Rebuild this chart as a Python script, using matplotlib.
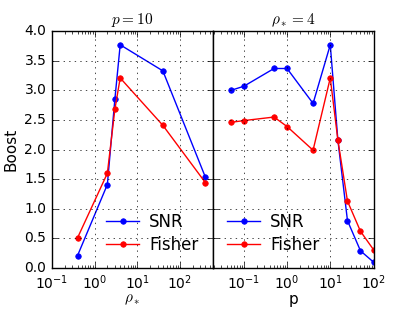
import numpy as np
import matplotlib
matplotlib.use('Agg')
from matplotlib import pyplot as plt

# left panel: p = 10, varying rho_*
rho = [0.4, 2, 3, 4, 40, 400]
snr_rho = [0.21, 1.41, 2.85, 3.77, 3.33, 1.53]
fisher_rho = [0.51, 1.60, 2.68, 3.21, 2.41, 1.44]

# right panel: rho_* = 4, varying p
p = [0.05, 0.1, 0.5, 1, 4, 10, 15, 25, 50, 100]
snr_p = [3.00, 3.07, 3.37, 3.37, 2.78, 3.77, 2.16, 0.80, 0.29, 0.10]
fisher_p = [2.46, 2.49, 2.55, 2.39, 1.99, 3.21, 2.16, 1.13, 0.62, 0.31]

yticks = np.arange(0, 4.01, 0.5)

plt.style.use('classic')
fig, (ax1, ax2) = plt.subplots(1, 2, sharey=True, figsize=(4.15, 3.12), dpi=100)
fig.patch.set_facecolor('white')
fig.subplots_adjust(left=0.125, right=0.9, top=0.9, bottom=0.141, wspace=0)

leg_kw = dict(numpoints=1, frameon=False, fontsize=12, borderaxespad=0.45,
              handlelength=2.0, handletextpad=0.6, labelspacing=0.3)

ax1.plot(rho, snr_rho, 'b.-', ms=8, label='SNR')
ax1.plot(rho, fisher_rho, 'r.-', ms=8, label='Fisher')
ax1.set_xscale('log')
ax1.set_xlim(0.1, 590)
ax1.set_ylim(0, 4)
ax1.set_yticks(yticks)
ax1.set_title('$p = 10$', fontsize=11)
ax1.set_xlabel(r'$\rho_*$', fontsize=11, labelpad=0)
ax1.set_ylabel('Boost', fontsize=11, labelpad=4)
ax1.grid(True)
ax1.legend(loc='lower right', **leg_kw)

ax2.plot(p, snr_p, 'b.-', ms=8, label='SNR')
ax2.plot(p, fisher_p, 'r.-', ms=8, label='Fisher')
ax2.set_xscale('log')
ax2.set_xlim(10**-1.72, 100)
ax2.set_title(r'$\rho_* = 4$', fontsize=11)
ax2.set_xlabel('p', fontsize=11, labelpad=0)
ax2.grid(True)
ax2.legend(loc='lower left', **leg_kw)
plt.setp(ax2.get_yticklabels(), visible=False)

for ax in (ax1, ax2):
    ax.tick_params(labelsize=10)

fig.savefig('out.png', dpi=100, facecolor='white')
